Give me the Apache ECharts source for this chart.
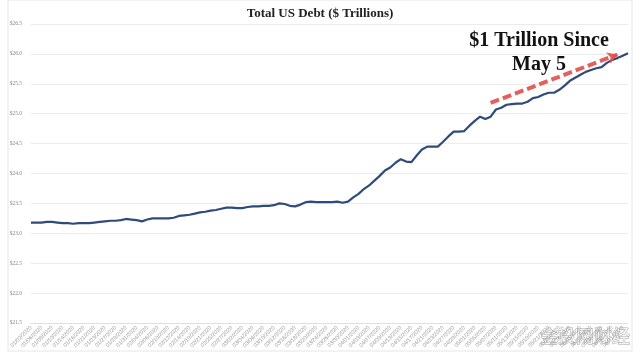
<!DOCTYPE html>
<html>
<head>
<meta charset="utf-8">
<script src="https://cdn.jsdelivr.net/npm/echarts@6/dist/echarts.min.js"></script>
<style>
html,body{margin:0;padding:0;background:#fff;}
#c{width:640px;height:357px;}
</style>
</head>
<body>
<div id="c"></div>
<script>
const dates = [
"01/02/2020","01/03/2020","01/06/2020","01/07/2020","01/08/2020","01/09/2020","01/10/2020","01/13/2020","01/14/2020","01/15/2020",
"01/16/2020","01/17/2020","01/21/2020","01/22/2020","01/23/2020","01/24/2020","01/27/2020","01/28/2020","01/29/2020","01/30/2020",
"01/31/2020","02/03/2020","02/04/2020","02/05/2020","02/06/2020","02/07/2020","02/10/2020","02/11/2020","02/12/2020","02/13/2020",
"02/14/2020","02/18/2020","02/19/2020","02/20/2020","02/21/2020","02/24/2020","02/25/2020","02/26/2020","02/27/2020","02/28/2020",
"03/02/2020","03/03/2020","03/04/2020","03/05/2020","03/06/2020","03/09/2020","03/10/2020","03/11/2020","03/12/2020","03/13/2020",
"03/16/2020","03/17/2020","03/18/2020","03/19/2020","03/20/2020","03/23/2020","03/24/2020","03/25/2020","03/26/2020","03/27/2020",
"03/30/2020","03/31/2020","04/01/2020","04/02/2020","04/03/2020","04/06/2020","04/07/2020","04/08/2020","04/09/2020","04/10/2020",
"04/13/2020","04/14/2020","04/15/2020","04/16/2020","04/17/2020","04/20/2020","04/21/2020","04/22/2020","04/23/2020","04/24/2020",
"04/27/2020","04/28/2020","04/29/2020","04/30/2020","05/01/2020","05/04/2020","05/05/2020","05/06/2020","05/07/2020","05/08/2020",
"05/11/2020","05/12/2020","05/13/2020","05/14/2020","05/15/2020","05/18/2020","05/19/2020","05/20/2020","05/21/2020","05/22/2020",
"05/26/2020","05/27/2020","05/28/2020","05/29/2020","06/01/2020","06/02/2020","06/03/2020","06/04/2020","06/05/2020","06/08/2020",
"06/09/2020","06/10/2020","06/11/2020","06/12/2020"
];
const debt = [
23.18,23.18,23.18,23.19,23.19,23.18,23.17,23.17,23.16,23.17,
23.17,23.17,23.18,23.19,23.20,23.21,23.21,23.22,23.24,23.23,
23.22,23.20,23.23,23.25,23.25,23.25,23.25,23.26,23.29,23.30,
23.31,23.33,23.35,23.36,23.38,23.39,23.41,23.43,23.43,23.42,
23.42,23.44,23.45,23.45,23.46,23.46,23.47,23.50,23.49,23.46,
23.45,23.48,23.52,23.53,23.52,23.52,23.52,23.52,23.53,23.51,
23.53,23.60,23.66,23.74,23.80,23.88,23.96,24.05,24.10,24.18,
24.24,24.20,24.19,24.30,24.40,24.45,24.45,24.45,24.53,24.62,
24.70,24.70,24.71,24.80,24.88,24.95,24.91,24.95,25.07,25.10,
25.15,25.16,25.17,25.17,25.20,25.26,25.28,25.32,25.35,25.35,
25.40,25.47,25.55,25.60,25.65,25.70,25.73,25.76,25.78,25.85,
25.90,25.93,25.97,26.01
];
const yMin = 21.5, yMax = 26.5, yStep = 0.5;
const titleText = "Total US Debt ($ Trillions)";
const noteLines = ["$1 Trillion Since", "May 5"];
const arrowFrom = ["05/06/2020", 25.18];
const arrowTo = ["06/10/2020", 25.99];

const chart = echarts.init(document.getElementById('c'), null, {renderer:'canvas'});
chart.setOption({
  animation:false,
  backgroundColor:'#fff',
  title:{text:titleText,left:'center',top:2,
    textStyle:{fontFamily:'Liberation Serif',fontWeight:'bold',fontSize:13,color:'#222'}},
  grid:{left:31,right:12,top:24,bottom:34},
  xAxis:{type:'category',data:dates,boundaryGap:false,
    axisLine:{lineStyle:{color:'#e0e0e0'}},axisTick:{show:false},
    axisLabel:{interval:1,rotate:45,fontSize:5.5,color:'#999',margin:4,fontFamily:'Liberation Sans'},
    splitLine:{show:false}},
  yAxis:{type:'value',min:yMin,max:yMax,interval:yStep,
    axisLine:{show:false},axisTick:{show:false},
    axisLabel:{fontSize:5.5,color:'#888',margin:9,fontFamily:'Liberation Serif',
      formatter:v=>'$'+v.toFixed(1)},
    splitLine:{lineStyle:{color:'#ececec',width:1}}},
  series:[{type:'line',data:debt,symbol:'none',
    lineStyle:{color:'#2f4b7c',width:2.2},
    markLine:{silent:true,symbol:['none','arrow'],symbolSize:[9,10],
      label:{show:false},
      lineStyle:{color:'#e0504a',width:4,type:[9,4],opacity:0.9},
      data:[[{coord:arrowFrom},{coord:arrowTo}]]}
  }],
  graphic:[
    {type:'rect',shape:{x:8,y:0,width:624,height:351},style:{fill:'none',stroke:'#e6e6e6',lineWidth:1},silent:true},
    {type:'text',x:539,y:31,style:{text:noteLines[0],fontFamily:'Liberation Serif',fontWeight:'bold',fontSize:20,fill:'#111',align:'center'}},
    {type:'text',x:539,y:55,style:{text:noteLines[1],fontFamily:'Liberation Serif',fontWeight:'bold',fontSize:20,fill:'#111',align:'center'}},
    {type:'text',x:540,y:327,style:{text:'金投网财经',fontFamily:'Noto Sans CJK SC',fontSize:18,fill:'rgba(255,255,255,0.85)',stroke:'#aaa',lineWidth:1}}
  ]
});
</script>
</body>
</html>
